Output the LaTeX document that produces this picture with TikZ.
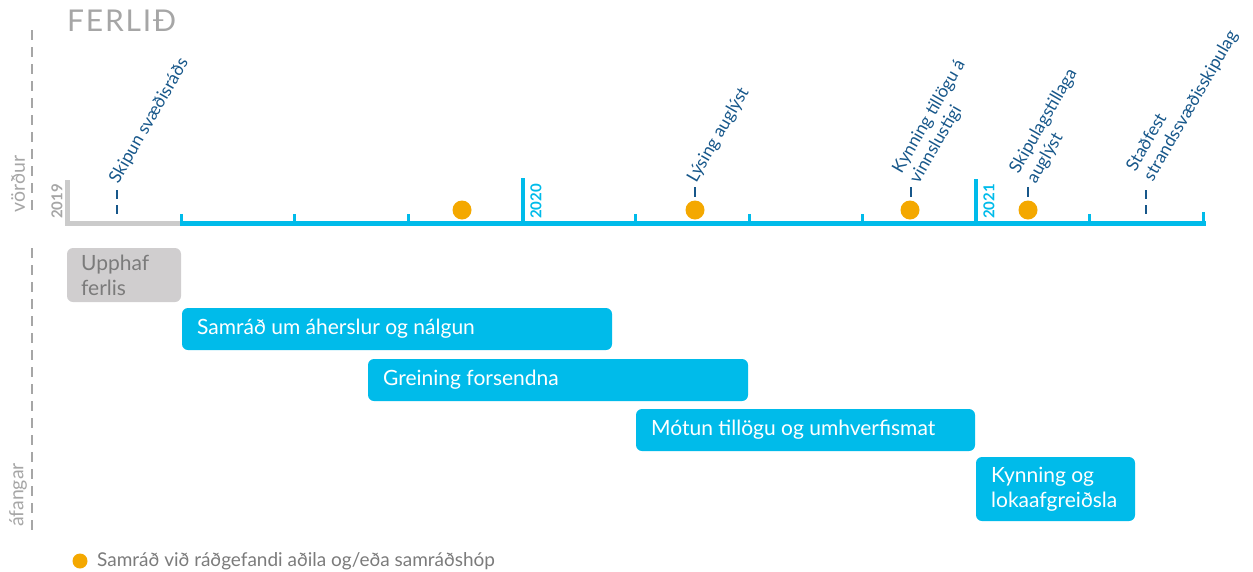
\documentclass[tikz,border=0pt]{standalone}
\usepackage{fontspec}
\setmainfont{Lato}
\definecolor{cyanb}{HTML}{00BBEA}
\definecolor{axgray}{HTML}{CBCBCB}
\definecolor{txtgray}{HTML}{A6A6A6}
\definecolor{boxgray}{HTML}{D0CECF}
\definecolor{boxtxt}{HTML}{7B7B7B}
\definecolor{orng}{HTML}{F4A800}
\definecolor{dblue}{HTML}{17578A}
\begin{document}
\begin{tikzpicture}[x=1pt,y=-1pt,
  bar/.style={fill=cyanb, rounded corners=6pt, draw=none},
  bartxt/.style={text=white, font=\fontsize{21}{25}\selectfont, anchor=west, inner sep=0pt, align=left},
  tick/.style={draw=cyanb, line width=3pt},
  dot/.style={circle, fill=orng, minimum size=19pt, inner sep=0pt},
  mdash/.style={draw=dblue, line width=2.5pt},
  mlabel/.style={text=dblue, font=\fontsize{17.5}{20}\selectfont, rotate=60, anchor=west, inner sep=0pt, align=left},
  sidedash/.style={draw=txtgray, line width=2.2pt, dash pattern=on 10pt off 7pt},
  year/.style={font=\bfseries\fontsize{15}{17}\selectfont, rotate=90, anchor=west, inner sep=0pt}
]
\useasboundingbox (0,0) rectangle (1253,571);

% title
\node[anchor=west, text=txtgray, font=\fontsize{30}{34}\selectfont\addfontfeatures{LetterSpace=6}, inner sep=0pt] (title) at (67,21) {FERLIÐ};

% side dashed lines and labels
\draw[sidedash] (32,30) -- (32,215);
\draw[sidedash] (32,248) -- (32,530);
\node[rotate=90, text=txtgray, font=\fontsize{19.5}{22}\selectfont, inner sep=0pt] (vordur) at (18,184) {vörður};
\node[rotate=90, text=txtgray, font=\fontsize{19.5}{22}\selectfont, inner sep=0pt] (afangar) at (18,495) {áfangar};

% axis
\draw[draw=axgray, line width=5pt] (67,180) -- (67,223) -- (181,223);
\draw[draw=cyanb, line width=5pt] (180,223) -- (1206,223);
\foreach \x in {181,294,408,635,749,862,1089} {\draw[tick] (\x,214) -- (\x,223);}
\draw[tick] (1203.5,212) -- (1203.5,223);
\draw[draw=cyanb, line width=3.5pt] (523,178) -- (523,223);
\draw[draw=cyanb, line width=3.5pt] (976,179) -- (976,223);
\node[year, text=txtgray] (y2019) at (57,219) {2019};
\node[year, text=cyanb] (y2020) at (536,219) {2020};
\node[year, text=cyanb] (y2021) at (989,219) {2021};

% orange dots
\node[dot] (d1) at (462,210) {};
\node[dot] (d2) at (695,210) {};
\node[dot] (d3) at (910,210) {};
\node[dot] (d4) at (1028,210) {};

% milestones
\draw[mdash] (117,190) -- (117,199) (117,205) -- (117,214);
\node[mlabel] (m1) at (114,182) {Skipun svæðisráðs};
\draw[mdash] (695,187) -- (695,197);
\node[mlabel] (m2) at (692,181) {Lýsing auglýst};
\draw[mdash] (911,187) -- (911,197);
\node[mlabel] (m3) at (906,177) {Kynning tillögu á\\vinnslustigi};
\draw[mdash] (1028,187) -- (1028,197);
\node[mlabel] (m4) at (1023,177) {Skipulagstillaga\\auglýst};
\draw[mdash] (1146,190) -- (1146,199) (1146,205) -- (1146,214);
\node[mlabel] (m5) at (1140,175) {Staðfest\\strandssvæðisskipulag};

% phases
\fill[boxgray, rounded corners=6pt] (67,248) rectangle (181,302);
\node[bartxt, text=boxtxt] (p0) at (81,275) {Upphaf\\ferlis};
\fill[bar] (182,308) rectangle (612,350);
\node[bartxt] (p1) at (197,329) {Samráð um áherslur og nálgun};
\fill[bar] (368,359) rectangle (748,401);
\node[bartxt] (p2) at (383,380) {Greining forsendna};
\fill[bar] (636,409) rectangle (975,451);
\node[bartxt] (p3) at (651,430) {Mótun tillögu og umhverfismat};
\fill[bar] (976,457) rectangle (1135,521);
\node[bartxt] (p4) at (991,489) {Kynning og\\lokaafgreiðsla};

% legend
\node[circle, fill=orng, minimum size=15pt, inner sep=0pt] (ldot) at (80,561) {};
\node[anchor=west, text=boxtxt, font=\fontsize{19}{22}\selectfont, inner sep=0pt] (ltxt) at (97,561) {Samráð við ráðgefandi aðila og/eða samráðshóp};
\end{tikzpicture}
\end{document}
